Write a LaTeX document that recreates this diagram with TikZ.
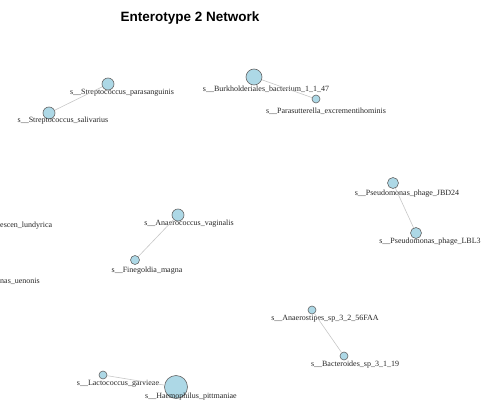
\documentclass[tikz,border=0pt]{standalone}
\usepackage{fontspec}
\setmainfont{Liberation Serif}
\newfontfamily\titlefont{Liberation Sans}
\usetikzlibrary{positioning}
\definecolor{lightblue}{HTML}{ADD8E6}

\begin{document}
\begin{tikzpicture}[x=1pt, y=-1pt]
  \tikzstyle{vertex} = [draw=black!60, fill=lightblue, circle, inner sep=0pt, line width=0.6pt]
  \tikzstyle{vertexLabel} = [text=black!85, inner sep=0pt, font={\fontsize{8}{9}\selectfont}]
  \tikzstyle{vertexEdge} = [black!22, line width=0.6pt];
  \useasboundingbox (0,0) rectangle (493,412);

	\node[font={\titlefont\bfseries\fontsize{13.5}{15}\selectfont}] (title) at (190,18) {Enterotype 2 Network};

	% vertices
	\node[vertex, minimum size=12pt](spara) at (108,84) {};
	\node[vertex, minimum size=12pt](ssali) at (49,113) {};
	\node[vertex, minimum size=16pt](burk) at (254,77) {};
	\node[vertex, minimum size=8pt](paras) at (316,99) {};
	\node[vertex, minimum size=11pt](jbd) at (393,183) {};
	\node[vertex, minimum size=11pt](lbl) at (416,233) {};
	\node[vertex, minimum size=12pt](anaero) at (178,215) {};
	\node[vertex, minimum size=9pt](fine) at (135,260) {};
	\node[vertex, minimum size=8pt](stipes) at (312,310) {};
	\node[vertex, minimum size=8pt](bact) at (344,356) {};
	\node[vertex, minimum size=8pt](lacto) at (103,375) {};
	\node[vertex, minimum size=23pt](haemo) at (176,387) {};

	% labels
	\node[vertexLabel](sparaL) at (122,93) {s\_\_Streptococcus\_parasanguinis};
	\node[vertexLabel](ssaliL) at (63,121) {s\_\_Streptococcus\_salivarius};
	\node[vertexLabel](burkL) at (266,89) {s\_\_Burkholderiales\_bacterium\_1\_1\_47};
	\node[vertexLabel](parasL) at (326,111) {s\_\_Parasutterella\_excrementihominis};
	\node[vertexLabel](jbdL) at (407,194) {s\_\_Pseudomonas\_phage\_JBD24};
	\node[vertexLabel](lblL) at (430,242) {s\_\_Pseudomonas\_phage\_LBL3};
	\node[vertexLabel](anaeroL) at (189,224) {s\_\_Anaerococcus\_vaginalis};
	\node[vertexLabel](fineL) at (147,271) {s\_\_Finegoldia\_magna};
	\node[vertexLabel](stipesL) at (325,319) {s\_\_Anaerostipes\_sp\_3\_2\_56FAA};
	\node[vertexLabel](bactL) at (355,365) {s\_\_Bacteroides\_sp\_3\_1\_19};
	\node[vertexLabel](lactoL) at (118,384) {s\_\_Lactococcus\_garvieae};
	\node[vertexLabel](haemoL) at (191,397) {s\_\_Haemophilus\_pittmaniae};
	\node[vertexLabel, anchor=west](edgeA) at (0,226) {escen\_lundyrica};
	\node[vertexLabel, anchor=west](edgeB) at (0,281) {nas\_uenonis};

	\path[vertexEdge]
	(spara) edge (ssali)
	(burk) edge (paras)
	(jbd) edge (lbl)
	(anaero) edge (fine)
	(stipes) edge (bact)
	(lacto) edge (haemo);
\end{tikzpicture}
\end{document}
